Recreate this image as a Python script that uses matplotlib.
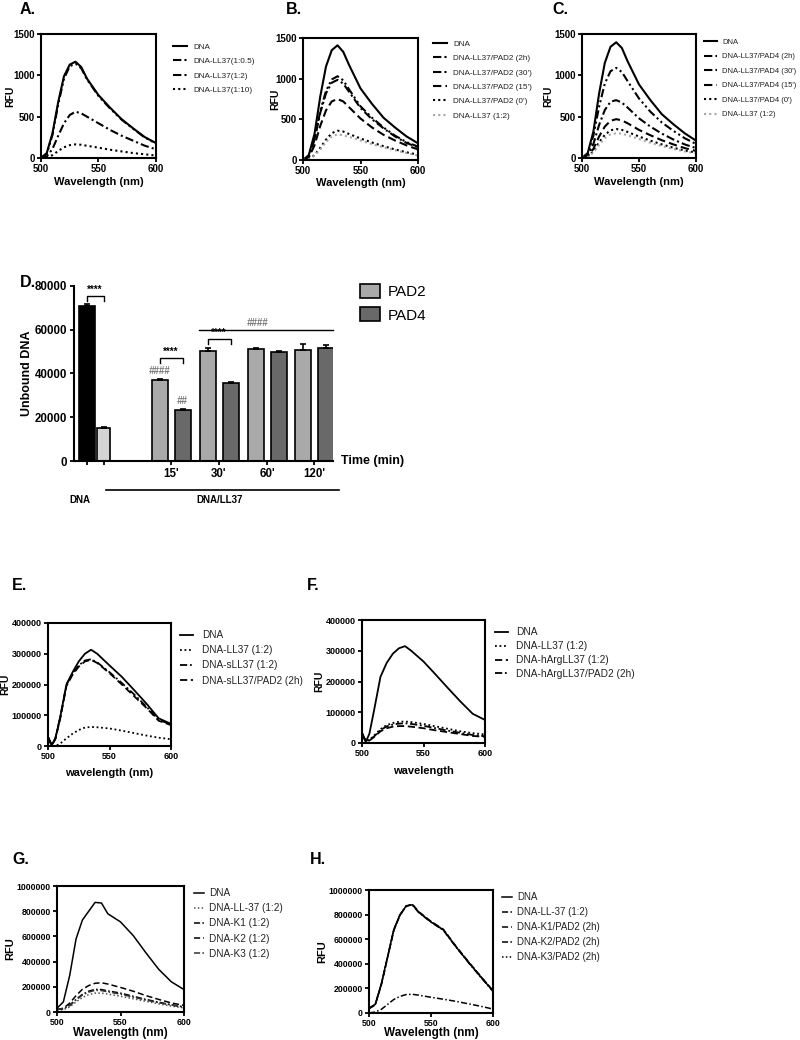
import numpy as np
import matplotlib.pyplot as plt
from matplotlib.patches import Patch

plt.rcParams['font.family'] = ['Liberation Sans', 'DejaVu Sans']

# ---- data -------------------------------------------------------------
wl_top = [500, 505, 510, 515, 520, 525, 530, 535, 540, 550, 560, 570, 580, 590, 600]

a_dna = [0, 60, 300, 680, 990, 1130, 1165, 1100, 960, 760, 610, 470, 360, 255, 180]
a_05 = [0, 50, 280, 650, 960, 1110, 1140, 1085, 950, 750, 600, 465, 355, 250, 175]
a_12 = [0, 20, 110, 270, 420, 520, 560, 540, 500, 420, 340, 270, 210, 150, 105]
a_110 = [0, 5, 35, 85, 130, 155, 165, 160, 148, 125, 100, 80, 60, 45, 30]

b_dna = [0, 60, 320, 780, 1150, 1350, 1410, 1330, 1170, 880, 690, 520, 400, 290, 205]
b_2h = [0, 40, 260, 600, 850, 990, 1030, 980, 870, 660, 520, 400, 300, 220, 165]
b_30 = [0, 40, 250, 580, 820, 950, 985, 940, 840, 640, 500, 390, 290, 210, 155]
b_15 = [0, 30, 180, 420, 610, 720, 750, 720, 650, 510, 400, 310, 240, 180, 130]
b_0 = [0, 10, 60, 150, 250, 330, 360, 350, 320, 265, 215, 170, 130, 95, 65]
b_ll = [0, 10, 55, 130, 220, 290, 315, 305, 285, 240, 195, 155, 120, 85, 55]

c_dna = [0, 60, 320, 780, 1150, 1345, 1400, 1330, 1170, 890, 700, 530, 410, 300, 210]
c_2h = [0, 45, 270, 620, 900, 1050, 1090, 1040, 930, 720, 560, 430, 330, 240, 170]
c_30 = [0, 30, 170, 400, 580, 680, 700, 670, 610, 480, 380, 295, 225, 165, 120]
c_15 = [0, 20, 110, 260, 380, 450, 470, 455, 420, 340, 275, 215, 165, 120, 85]
c_0 = [0, 15, 80, 190, 280, 335, 350, 340, 315, 260, 210, 165, 125, 90, 65]
c_ll = [0, 10, 65, 160, 240, 285, 300, 295, 275, 230, 185, 145, 110, 80, 55]

wl_ef = [500, 503, 506, 510, 515, 520, 525, 530, 535, 540, 550, 560, 570, 580, 590, 600]

e_dna = [30000, 3000, 25000, 95000, 200000, 240000, 275000, 300000, 313000, 300000, 262000, 225000, 182000, 138000, 90000, 72000]
e_ll = [0, 0, 0, 8000, 25000, 40000, 52000, 60000, 62000, 61000, 57000, 50000, 42000, 34000, 27000, 22000]
e_s = [30000, 3000, 25000, 95000, 200000, 235000, 262000, 278000, 282000, 272000, 240000, 205000, 168000, 128000, 85000, 70000]
e_spad = [25000, 2000, 22000, 90000, 195000, 232000, 258000, 275000, 280000, 270000, 237000, 200000, 162000, 124000, 82000, 68000]

f_dna = [35000, 3000, 30000, 110000, 215000, 260000, 290000, 308000, 315000, 300000, 265000, 222000, 178000, 135000, 95000, 75000]
f_ll = [30000, 8000, 10000, 25000, 45000, 58000, 65000, 69000, 70000, 68000, 62000, 54000, 46000, 38000, 32000, 28000]
f_h = [28000, 6000, 8000, 20000, 38000, 48000, 53000, 55000, 55000, 53000, 48000, 41000, 35000, 29000, 23000, 20000]
f_hpad = [30000, 7000, 9000, 22000, 42000, 54000, 60000, 63000, 64000, 62000, 56000, 48000, 40000, 33000, 26000, 22000]

wl_gh = [500, 505, 510, 515, 520, 525, 530, 535, 540, 550, 560, 570, 580, 590, 600]

g_dna = [30000, 80000, 290000, 580000, 730000, 800000, 870000, 865000, 780000, 715000, 607000, 470000, 340000, 240000, 178000]
g_ll = [15000, 18000, 40000, 80000, 115000, 138000, 150000, 150000, 142000, 125000, 105000, 85000, 65000, 47000, 32000]
g_k1 = [20000, 25000, 55000, 100000, 140000, 165000, 180000, 178000, 168000, 150000, 125000, 100000, 78000, 58000, 40000]
g_k2 = [20000, 30000, 70000, 130000, 180000, 210000, 228000, 232000, 222000, 195000, 165000, 130000, 100000, 72000, 52000]
g_k3 = [20000, 25000, 50000, 95000, 135000, 158000, 172000, 170000, 160000, 142000, 118000, 95000, 74000, 55000, 38000]

h_dna = [40000, 70000, 240000, 460000, 680000, 800000, 870000, 880000, 820000, 740000, 675000, 540000, 415000, 295000, 178000]
h_ll = [0, 8000, 30000, 70000, 110000, 135000, 150000, 152000, 145000, 128000, 112000, 95000, 75000, 55000, 32000]
h_k1 = [35000, 65000, 230000, 450000, 670000, 795000, 868000, 885000, 825000, 745000, 680000, 545000, 420000, 300000, 182000]
h_k2 = [38000, 68000, 235000, 455000, 675000, 798000, 872000, 878000, 818000, 738000, 672000, 538000, 412000, 292000, 175000]
h_k3 = [36000, 66000, 232000, 452000, 672000, 796000, 866000, 882000, 822000, 742000, 678000, 542000, 418000, 298000, 180000]

# panel D
d_dna = 71000
d_dna_err = 800
d_ll = 15000
d_ll_err = 500
times = ["15'", "30'", "60'", "120'"]
pad2 = [37200, 50500, 51300, 50800]
pad2_err = [500, 1200, 400, 2500]
pad4 = [23200, 35500, 49700, 51800]
pad4_err = [600, 400, 800, 1300]

# ---- styles -----------------------------------------------------------
SOLID = '-'
DOT = (0, (1, 1.5))
DASH = (0, (4, 2))
DDOT = (0, (4, 1.5, 1, 1.5))
DDDOT = (0, (4, 1.5, 1, 1.5, 1, 1.5))

W, H = 800, 1040
fig = plt.figure(figsize=(8, 10.4), dpi=100)


def px_axes(l, t, r, b):
    return fig.add_axes([l / W, 1 - b / H, (r - l) / W, (b - t) / H])


def ftext(x, y, s, **kw):
    return fig.text(x / W, 1 - y / H, s, **kw)


def spectrum(box, wl, series, ylim, yticks, xlabel, lab_pos, fs_tick, fs_lab, lw, leg):
    ax = px_axes(*box)
    for y, ls, col, lab in series:
        ax.plot(wl, y, color=col, ls=ls, lw=lw, label=lab)
    ax.set_xlim(500, 600)
    ax.set_ylim(*ylim)
    ax.set_xticks([500, 550, 600])
    ax.set_yticks(yticks)
    ax.ticklabel_format(style='plain', useOffset=False)
    for s in ax.spines.values():
        s.set_linewidth(1.5)
    ax.tick_params(labelsize=fs_tick, width=1.3, length=3, pad=1.5)
    for t in ax.get_xticklabels() + ax.get_yticklabels():
        t.set_fontweight('bold')
    # axis titles placed at measured pixel centres
    ftext(lab_pos[0], (box[1] + box[3]) / 2, 'RFU', rotation=90, fontsize=fs_lab,
          fontweight='bold', ha='center', va='center')
    ftext((box[0] + box[2]) / 2, lab_pos[1], xlabel, fontsize=fs_lab + 0.5,
          fontweight='bold', ha='center', va='center')
    # legend: x of handle, y of first row, font size, row gap, handle px, gap px
    hx, hy, fs, rowgap, hl_px, gap_px = leg
    em = fs * 100 / 72
    fig.legend(loc='upper left', bbox_to_anchor=(hx / W, 1 - (hy - em * 0.48) / H),
               handles=ax.get_lines(), fontsize=fs, frameon=False, borderpad=0, borderaxespad=0,
               handlelength=hl_px / em, handletextpad=gap_px / em,
               labelspacing=(rowgap - em * 0.96) / em, labelcolor='#222222')
    return ax


# top row
spectrum((41, 34, 156, 158), wl_top,
         [(a_dna, SOLID, 'k', 'DNA'), (a_05, DDDOT, 'k', 'DNA-LL37(1:0.5)'),
          (a_12, DDOT, 'k', 'DNA-LL37(1:2)'), (a_110, DOT, 'k', 'DNA-LL37(1:10)')],
         (0, 1500), [0, 500, 1000, 1500], 'Wavelength (nm)', (10, 182), 7, 7.5, 1.5,
         (173, 47, 5.9, 14.5, 14, 6))
spectrum((303, 38, 418, 160), wl_top,
         [(b_dna, SOLID, 'k', 'DNA'), (b_2h, DDDOT, 'k', 'DNA-LL37/PAD2 (2h)'),
          (b_30, DDOT, 'k', "DNA-LL37/PAD2 (30')"), (b_15, DASH, 'k', "DNA-LL37/PAD2 (15')"),
          (b_0, DOT, 'k', "DNA-LL37/PAD2 (0')"), (b_ll, DOT, '#a8a8a8', 'DNA-LL37 (1:2)')],
         (0, 1500), [0, 500, 1000, 1500], 'Wavelength (nm)', (275, 183), 7, 7.5, 1.5,
         (433, 44, 5.9, 14.5, 14, 6))
spectrum((582, 34, 696, 158), wl_top,
         [(c_dna, SOLID, 'k', 'DNA'), (c_2h, DDDOT, 'k', 'DNA-LL37/PAD4 (2h)'),
          (c_30, DDOT, 'k', "DNA-LL37/PAD4 (30')"), (c_15, DASH, 'k', "DNA-LL37/PAD4 (15')"),
          (c_0, DOT, 'k', "DNA-LL37/PAD4 (0')"), (c_ll, DOT, '#a8a8a8', 'DNA-LL37 (1:2)')],
         (0, 1500), [0, 500, 1000, 1500], 'Wavelength (nm)', (548, 182), 7, 7.5, 1.5,
         (704, 42, 5.5, 14.5, 13, 5))

# E, F
yt4 = [0, 100000, 200000, 300000, 400000]
spectrum((48, 623, 171, 746), wl_ef,
         [(e_dna, SOLID, 'k', 'DNA'), (e_ll, DOT, 'k', 'DNA-LL37 (1:2)'),
          (e_s, DDOT, 'k', 'DNA-sLL37 (1:2)'), (e_spad, DASH, 'k', 'DNA-sLL37/PAD2 (2h)')],
         (0, 400000), yt4, 'wavelength (nm)', (5, 773), 6.5, 7.5, 1.3,
         (180, 635, 7.2, 14.7, 13, 9))
spectrum((362, 620, 485, 743), wl_ef,
         [(f_dna, SOLID, 'k', 'DNA'), (f_ll, DOT, 'k', 'DNA-LL37 (1:2)'),
          (f_h, DASH, 'k', 'DNA-hArgLL37 (1:2)'), (f_hpad, DDOT, 'k', 'DNA-hArgLL37/PAD2 (2h)')],
         (0, 400000), yt4, 'wavelength', (319, 771), 6.5, 7.5, 1.3,
         (495, 632, 7.3, 13.7, 13, 8))

# G, H
yt6 = [0, 200000, 400000, 600000, 800000, 1000000]
spectrum((57, 886, 184, 1012), wl_gh,
         [(g_dna, SOLID, 'k', 'DNA'), (g_ll, DOT, '#555555', 'DNA-LL-37 (1:2)'),
          (g_k1, DDOT, 'k', 'DNA-K1 (1:2)'), (g_k2, DASH, 'k', 'DNA-K2 (1:2)'),
          (g_k3, DDOT, '#333333', 'DNA-K3 (1:2)')],
         (0, 1000000), yt6, 'Wavelength (nm)', (10, 1033), 6.3, 8, 1.1,
         (194, 893, 7.2, 14.7, 10, 5))
spectrum((369, 890, 493, 1013), wl_gh,
         [(h_dna, SOLID, 'k', 'DNA'), (h_ll, DDOT, 'k', 'DNA-LL-37 (1:2)'),
          (h_k1, DASH, 'k', 'DNA-K1/PAD2 (2h)'), (h_k2, DDOT, 'k', 'DNA-K2/PAD2 (2h)'),
          (h_k3, DOT, 'k', 'DNA-K3/PAD2 (2h)')],
         (0, 1000000), yt6, 'Wavelength (nm)', (322, 1033), 6.3, 8, 1.1,
         (502, 897, 7.0, 14.3, 10, 5))

# ---- panel D ----------------------------------------------------------
axd = px_axes(74, 286, 333, 461)
x_dna, x_ll = 1.25, 2.95
centers = np.array([9.7, 14.5, 19.3, 24.0])
off = 1.15
bw = 1.6
ekw = dict(lw=1.2, capthick=1.2, capsize=2.5, ecolor='k')
axd.bar(x_dna, d_dna, bw, color='black', edgecolor='k', lw=1.2, yerr=[[0], [d_dna_err]], error_kw=ekw)
axd.bar(x_ll, d_ll, bw * 0.85, color='#d4d4d4', edgecolor='k', lw=1.2, yerr=[[0], [d_ll_err]], error_kw=ekw)
axd.bar(centers - off, pad2, bw, color='#a9a9a9', edgecolor='k', lw=1.2,
        yerr=[[0] * 4, pad2_err], error_kw=ekw)
axd.bar(centers + off, pad4, bw, color='#696969', edgecolor='k', lw=1.2,
        yerr=[[0] * 4, pad4_err], error_kw=ekw)
axd.set_xlim(0, 25.9)
axd.set_ylim(0, 80000)
axd.set_yticks([0, 20000, 40000, 60000, 80000])
axd.set_xticks([x_dna, x_ll] + list(centers))
axd.set_xticklabels(['', ''] + times)
axd.spines['top'].set_visible(False)
axd.spines['right'].set_visible(False)
axd.spines['left'].set_linewidth(1.5)
axd.spines['bottom'].set_linewidth(1.5)
axd.tick_params(labelsize=8.3, width=1.3, length=3, pad=2)
for t in axd.get_xticklabels() + axd.get_yticklabels():
    t.set_fontweight('bold')
ftext(27, 373, 'Unbound DNA', rotation=90, fontsize=9, fontweight='bold', ha='center', va='center')
axd.text(1.03, 0, 'Time (min)', transform=axd.transAxes, fontsize=9, fontweight='bold',
         va='center', ha='left')


def bracket(x1, x2, y, h, label):
    axd.plot([x1, x1, x2, x2], [y - h, y, y, y - h], color='k', lw=1)
    axd.text((x1 + x2) / 2, y + 500, label, ha='center', va='bottom', fontsize=7, fontweight='bold')


bracket(x_dna, x_ll, 75300, 2200, '****')
bracket(centers[0] - off, centers[0] + off, 47000, 2200, '****')
bracket(centers[1] - off, centers[1] + off, 55700, 2200, '****')
axd.plot([12.5, 25.9], [60000, 60000], color='k', lw=1, clip_on=False)
axd.text(18.3, 60700, '####', color='#777777', fontsize=7, fontweight='bold', style='italic',
         ha='center', va='bottom')
axd.text(centers[0] - off, pad2[0] + 1500, '####', color='#777777', fontsize=7, fontweight='bold',
         style='italic', ha='center', va='bottom')
axd.text(centers[0] + off, pad4[0] + 1800, '##', color='#777777', fontsize=7, fontweight='bold',
         style='italic', ha='center', va='bottom')

tr = axd.get_xaxis_transform()
axd.plot([3.2, 26.5], [-0.166, -0.166], color='k', lw=1.2, transform=tr, clip_on=False)
axd.text(0.6, -0.225, 'DNA', transform=tr, fontsize=7, fontweight='bold', ha='center', va='center')
axd.text(14.6, -0.225, 'DNA/LL37', transform=tr, fontsize=7, fontweight='bold', ha='center', va='center')

fig.legend(handles=[Patch(facecolor='#a9a9a9', edgecolor='k', lw=1.2, label='PAD2'),
                    Patch(facecolor='#696969', edgecolor='k', lw=1.2, label='PAD4')],
           loc='upper left', bbox_to_anchor=(360 / W, 1 - 284 / H), frameon=False, fontsize=11,
           borderpad=0, borderaxespad=0, handlelength=1.3, handleheight=1.0, handletextpad=0.5,
           labelspacing=0.55)

# panel letters
for lab, x, y in [('A.', 20, 10), ('B.', 286, 10), ('C.', 552, 10), ('D.', 20, 283),
                  ('E.', 12, 586), ('F.', 307, 586), ('G.', 12, 860), ('H.', 310, 860)]:
    ftext(x, y, lab, fontsize=11.5, fontweight='bold', ha='left', va='center')

fig.savefig('out.png', dpi=100)
